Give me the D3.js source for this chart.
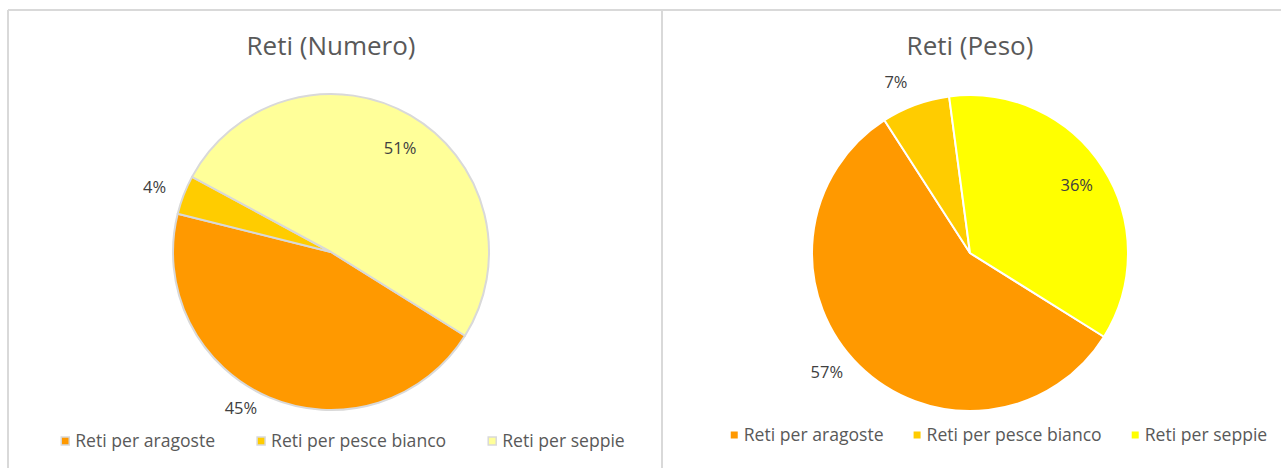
<!DOCTYPE html>
<html>
<head>
<meta charset="utf-8">
<script src="https://cdn.jsdelivr.net/npm/d3@7"></script>
<style>
  html, body { margin: 0; padding: 0; background: #ffffff; }
  svg { display: block; }
  text { font-family: "Open Sans", Lato, sans-serif; }
</style>
</head>
<body>
<svg id="chart" width="1281" height="468"></svg>
<script>
// Net types, shared by both pies
const categories = ["Reti per aragoste", "Reti per pesce bianco", "Reti per seppie"];
// Share of nets by count (%)
const numeroValues = [45, 4, 51];
// Share of nets by weight (%)
const pesoValues = [57, 7, 36];
const titles = ["Reti (Numero)", "Reti (Peso)"];

const deg = Math.PI / 180;
const svg = d3.select("#chart");

// panel frame
svg.append("line").attr("x1", 8).attr("x2", 1281).attr("y1", 10).attr("y2", 10)
  .attr("stroke", "#d9d9d9").attr("stroke-width", 2);
svg.append("line").attr("x1", 8).attr("x2", 8).attr("y1", 10).attr("y2", 468)
  .attr("stroke", "#d9d9d9").attr("stroke-width", 2);
svg.append("line").attr("x1", 662).attr("x2", 662).attr("y1", 10).attr("y2", 468)
  .attr("stroke", "#d9d9d9").attr("stroke-width", 2);

const charts = [
  {
    title: titles[0], values: numeroValues,
    colors: ["#FF9900", "#FFCC00", "#FFFF99"],
    cx: 331, cy: 252, r: 158, titleY: 55,
    stroke: "#d9d9d9", legendStroke: "#d9d9d9",
    labels: [{ k: 1.14, da: 7 }, { k: 1.19, da: -1 }, { k: 0.79, da: 3.4 }],
    legendY: 441, legendCx: 343, swatch: 8, legendGap: 42
  },
  {
    title: titles[1], values: pesoValues,
    colors: ["#FF9900", "#FFCC00", "#FFFF00"],
    cx: 970, cy: 253, r: 158, titleY: 55,
    stroke: "#ffffff", legendStroke: null,
    labels: [{ k: 1.18, da: 5.6 }, { k: 1.18, da: -3.2 }, { k: 0.80, da: 0.4 }],
    legendY: 435, legendCx: 999, swatch: 7, legendGap: 30
  }
];

charts.forEach(c => {
  const g = svg.append("g");

  g.append("text")
    .attr("x", c.cx).attr("y", c.titleY)
    .attr("text-anchor", "middle")
    .attr("font-size", 26).attr("fill", "#595959")
    .text(c.title);

  const rows = categories.map((name, i) => ({ name, value: c.values[i], color: c.colors[i] }));
  const pie = d3.pie().sort(null).value(d => d.value)
    .startAngle(122 * deg).endAngle(122 * deg + 2 * Math.PI);
  const arcs = pie(rows);
  const arc = d3.arc().innerRadius(0).outerRadius(c.r);

  const pg = g.append("g").attr("transform", `translate(${c.cx},${c.cy})`);
  pg.selectAll("path").data(arcs).join("path")
    .attr("d", arc)
    .attr("fill", d => d.data.color)
    .attr("stroke", c.stroke).attr("stroke-width", 2)
    .attr("stroke-linejoin", "round");

  // percentage labels
  pg.selectAll("text").data(arcs).join("text")
    .attr("transform", (d, i) => {
      const a = (d.startAngle + d.endAngle) / 2 + c.labels[i].da * deg;
      const rr = c.r * c.labels[i].k;
      return `translate(${rr * Math.sin(a)},${-rr * Math.cos(a)})`;
    })
    .attr("text-anchor", "middle").attr("dy", "0.35em")
    .attr("font-size", 16.5).attr("fill", "#404040")
    .text(d => d.data.value + "%");

  // legend, laid out from measured text widths
  const lg = g.append("g");
  const items = lg.selectAll("g").data(rows).join("g");
  items.append("rect")
    .attr("width", c.swatch).attr("height", c.swatch)
    .attr("y", -c.swatch / 2)
    .attr("fill", d => d.color)
    .attr("stroke", c.legendStroke || "none")
    .attr("stroke-width", c.legendStroke ? 1.5 : 0);
  items.append("text")
    .attr("x", c.swatch + 6).attr("dy", "0.35em")
    .attr("font-size", 17.6).attr("fill", "#595959")
    .text(d => d.name);
  const widths = [];
  items.each(function () { widths.push(this.getBBox().width); });
  const gap = c.legendGap;
  const total = d3.sum(widths) + gap * (widths.length - 1);
  let x = c.legendCx - total / 2;
  items.attr("transform", (d, i) => {
    const t = `translate(${x},${c.legendY})`;
    x += widths[i] + gap;
    return t;
  });
});
</script>
</body>
</html>
